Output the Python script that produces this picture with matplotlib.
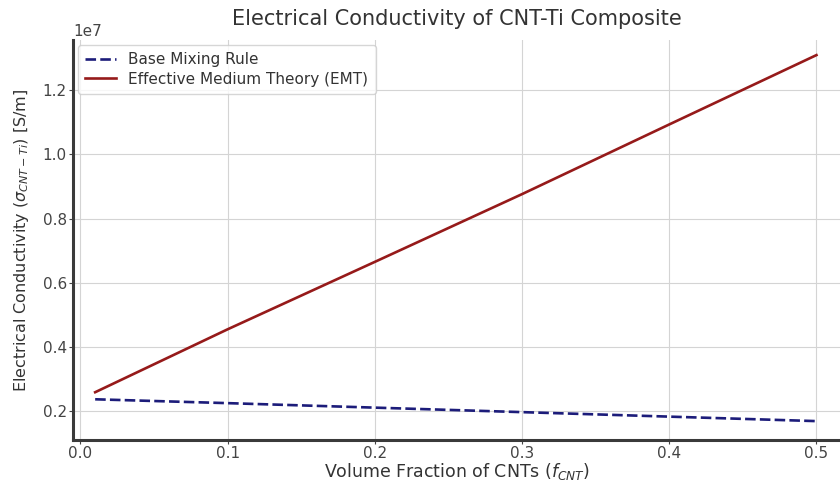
import matplotlib
matplotlib.use("Agg")
import matplotlib.pyplot as plt

# volume fraction of CNTs
f_cnt = [0.01, 0.1, 0.2, 0.3, 0.4, 0.5]
# conductivity [S/m]
sigma_mix = [2.37e6, 2.25e6, 2.11e6, 1.97e6, 1.83e6, 1.69e6]
sigma_emt = [2.59e6, 4.55e6, 6.65e6, 8.76e6, 10.93e6, 13.09e6]

fig, ax = plt.subplots(figsize=(8.4, 4.82), dpi=100)
ax.plot(f_cnt, sigma_mix, linestyle='--', color='#1c1c7a', linewidth=1.9, dashes=(4, 1.6),
        label='Base Mixing Rule')
ax.plot(f_cnt, sigma_emt, color='#961a1a', linewidth=1.9,
        label='Effective Medium Theory (EMT)')

ax.set_xlim(-0.005, 0.516)
ax.set_ylim(1.1e6, 1.356e7)
ax.set_xticks([0.0, 0.1, 0.2, 0.3, 0.4, 0.5])
ax.set_yticks([0.2e7, 0.4e7, 0.6e7, 0.8e7, 1.0e7, 1.2e7])
ax.grid(True, color='#d4d4d4', linewidth=0.8)
ax.spines['top'].set_visible(False)
ax.spines['right'].set_visible(False)
for s in ('left', 'bottom'):
    ax.spines[s].set_linewidth(2.2)
    ax.spines[s].set_color('#3a3a3a')
ax.tick_params(colors='#444444', labelsize=11, length=3, pad=1.5)
ax.yaxis.get_offset_text().set_fontsize(11)

ax.set_title('Electrical Conductivity of CNT-Ti Composite', fontsize=15, color='#333333', pad=11)
ax.set_xlabel('Volume Fraction of CNTs ($f_{CNT}$)', fontsize=12.5, color='#333333', labelpad=0)
ax.set_ylabel('Electrical Conductivity ($\\sigma_{CNT-Ti}$) [S/m]', fontsize=11.5, color='#333333',
              labelpad=8)
ax.legend(loc='upper left', fontsize=11, framealpha=0.8, borderaxespad=0.3,
          handlelength=2.0, labelspacing=0.3, labelcolor='#333333', borderpad=0.5)

fig.subplots_adjust(left=0.087, right=1.0, bottom=0.087, top=0.917)
fig.savefig('out.png', dpi=100)
